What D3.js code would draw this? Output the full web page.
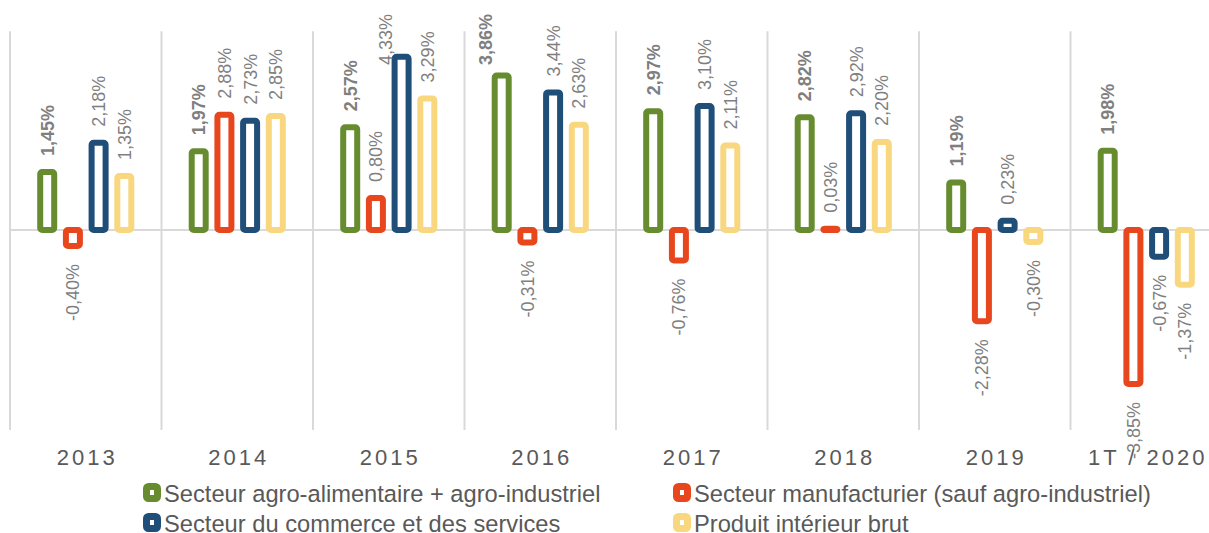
<!DOCTYPE html>
<html>
<head>
<meta charset="utf-8">
<script src="https://cdn.jsdelivr.net/npm/d3@7"></script>
<style>
  body { margin: 0; background: #fff; }
  svg { display: block; font-family: "Liberation Sans", Arial, sans-serif; }
</style>
</head>
<body>
<div id="chart"></div>
<script>
// categories and series values (growth rates, %)
var categories = ["2013", "2014", "2015", "2016", "2017", "2018", "2019", "1T / 2020"];
var seriesNames = [
    "Secteur agro-alimentaire + agro-industriel",
    "Secteur manufacturier (sauf agro-industriel)",
    "Secteur du commerce et des services",
    "Produit intérieur brut"
];
var agro = [1.45, 1.97, 2.57, 3.86, 2.97, 2.82, 1.19, 1.98];
var manuf = [-0.40, 2.88, 0.80, -0.31, -0.76, 0.03, -2.28, -3.85];
var commerce = [2.18, 2.73, 4.33, 3.44, 3.10, 2.92, 0.23, -0.67];
var pib = [1.35, 2.85, 3.29, 2.63, 2.11, 2.20, -0.30, -1.37];

function init() {
    var w = 1209;
    var h = 533;
    var colors = ["#678c30", "#e8461d", "#1f4e79", "#f8d77f"];
    var allSeries = [agro, manuf, commerce, pib];

    var svg = d3.select("#chart")
                .append("svg")
                .attr("width", w)
                .attr("height", h);

    // category bands run a bit past the right edge, like the original
    var xScale = d3.scaleBand()
                   .domain(categories)
                   .range([10, 10 + 151.5 * categories.length])
                   .padding(0);

    var xInner = d3.scaleBand()
                   .domain(d3.range(4))
                   .range([-51.4, 51.4]);

    var yScale = d3.scaleLinear()
                   .domain([-5, 5])
                   .range([430, 30]);

    // separators between categories
    var seps = d3.range(categories.length + 1);
    svg.selectAll("line.sep")
       .data(seps)
       .enter()
       .append("line")
       .attr("class", "sep")
       .attr("x1", function(d) { return xScale.range()[0] + d * xScale.step(); })
       .attr("x2", function(d) { return xScale.range()[0] + d * xScale.step(); })
       .attr("y1", yScale(4.97))
       .attr("y2", yScale(-5))
       .attr("stroke", "#d9d9d9")
       .attr("stroke-width", 2);

    // zero line
    svg.append("line")
       .attr("x1", 10)
       .attr("x2", w)
       .attr("y1", yScale(0))
       .attr("y2", yScale(0))
       .attr("stroke", "#d9d9d9")
       .attr("stroke-width", 2);

    // flatten the data for drawing
    var points = [];
    allSeries.forEach(function(vals, s) {
        vals.forEach(function(v, i) {
            points.push({ s: s, cat: categories[i], v: v });
        });
    });

    function cx(d) {
        return xScale(d.cat) + xScale.bandwidth() / 2 + xInner(d.s) + xInner.bandwidth() / 2;
    }

    var barW = 14;
    svg.selectAll("rect.bar")
       .data(points)
       .enter()
       .append("rect")
       .attr("class", "bar")
       .attr("x", function(d) { return cx(d) - barW / 2; })
       .attr("y", function(d) { return Math.min(yScale(d.v), yScale(0)); })
       .attr("width", barW)
       .attr("height", function(d) { return Math.abs(yScale(d.v) - yScale(0)); })
       .attr("rx", 2)
       .attr("fill", "#fff")
       .attr("stroke", function(d) { return colors[d.s]; })
       .attr("stroke-width", 6);

    // rotated value labels; a label that would leave the top is pushed down and to the left
    var labelLen = 52;
    svg.selectAll("text.val")
       .data(points)
       .enter()
       .append("text")
       .attr("class", "val")
       .attr("transform", function(d) {
           var x = cx(d) + 6.5;
           var y = d.v >= 0 ? yScale(d.v) - 16 : yScale(d.v) + 18;
           if (d.v >= 0 && y - labelLen < 12) {
               y = 13 + labelLen;
               x -= 16;
           }
           return "translate(" + x + "," + y + ") rotate(-90)";
       })
       .attr("text-anchor", function(d) { return d.v >= 0 ? "start" : "end"; })
       .attr("font-size", "18px")
       .attr("font-weight", function(d) { return d.s === 0 ? "bold" : "normal"; })
       .attr("fill", "#7f7f7f")
       .text(function(d) { return d.v.toFixed(2).replace(".", ",") + "%"; });

    // category labels
    svg.selectAll("text.cat")
       .data(categories)
       .enter()
       .append("text")
       .attr("class", "cat")
       .attr("x", function(d) { return xScale(d) + xScale.bandwidth() / 2 + 1.5; })
       .attr("y", 465)
       .attr("text-anchor", "middle")
       .attr("font-size", "22px")
       .attr("letter-spacing", "3px")
       .attr("fill", "#595959")
       .text(function(d) { return d; });

    // legend, two columns by two rows
    var legendPos = [[146.5, 486.5], [676.5, 486.5], [146.5, 516.5], [676.5, 516.5]];
    var legend = svg.selectAll("g.legend")
                    .data(seriesNames)
                    .enter()
                    .append("g")
                    .attr("class", "legend")
                    .attr("transform", function(d, i) {
                        return "translate(" + legendPos[i][0] + "," + legendPos[i][1] + ")";
                    });

    legend.append("rect")
          .attr("width", 11)
          .attr("height", 12)
          .attr("rx", 2)
          .attr("fill", "#fff")
          .attr("stroke", function(d, i) { return colors[i]; })
          .attr("stroke-width", 7);

    legend.append("text")
          .attr("x", 17.5)
          .attr("y", 15)
          .attr("font-size", "23.7px")
          .attr("fill", "#595959")
          .text(function(d) { return d; });
}

window.onload = init;
</script>
</body>
</html>
